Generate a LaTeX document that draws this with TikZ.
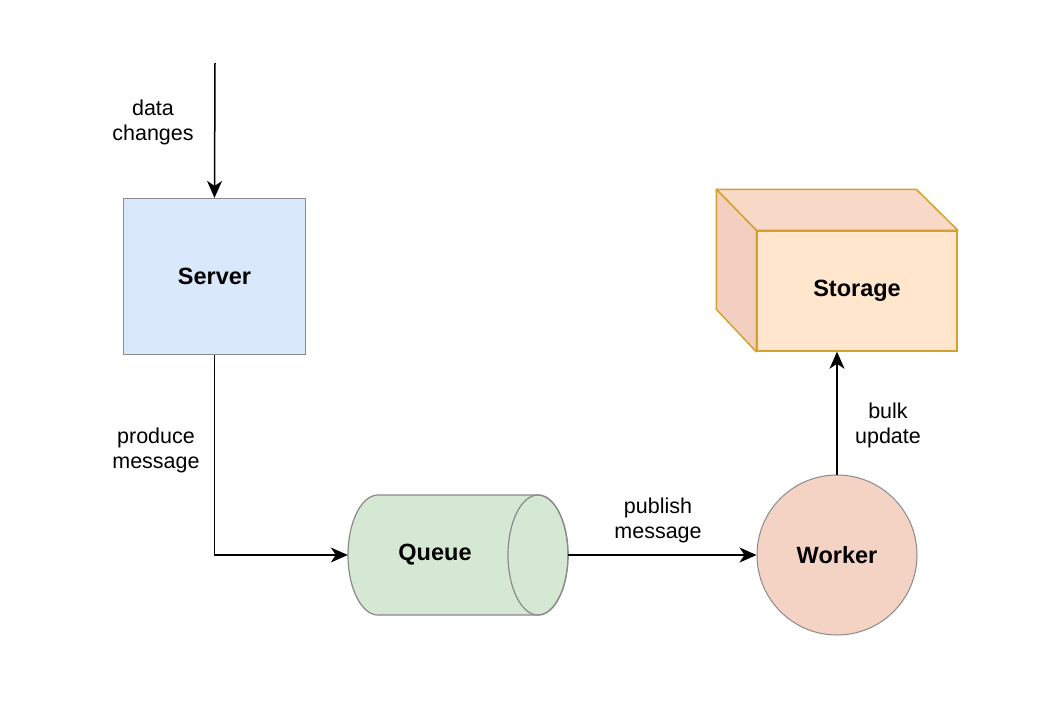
\documentclass[tikz,border=0pt]{standalone}
\usepackage{fontspec}
\setmainfont{Liberation Sans}
\usetikzlibrary{arrows.meta,positioning,calc}
\definecolor{srvfill}{HTML}{DAE8FC}
\definecolor{quefill}{HTML}{D5E8D4}
\definecolor{wrkfill}{HTML}{F4D3C5}
\definecolor{stofront}{HTML}{FFE6CC}
\definecolor{stotop}{HTML}{F8D8C6}
\definecolor{stoside}{HTML}{F3CFC2}
\definecolor{stoline}{HTML}{D6A02E}
\definecolor{boxline}{HTML}{8A8A8A}
\begin{document}
\begin{tikzpicture}[x=1pt,y=-1pt,
  every node/.style={font=\fontsize{21.5}{25}\selectfont,align=center},
  block/.style={font=\fontsize{23.5}{26}\selectfont\bfseries},
  flow/.style={line width=1.5pt,-{Stealth[length=17pt,width=15pt,inset=5pt]}}]
\useasboundingbox (0,0) rectangle (1051,710);
%
% nodos
\node[block,draw=boxline,line width=1.2pt,fill=srvfill,minimum width=182pt,minimum height=156pt] (server) at (214.5,276.5) {Server};
\node[block,minimum width=220pt,minimum height=120pt] (queue) at (458,555) {};
\node[block,circle,draw=boxline,line width=1pt,fill=wrkfill,minimum size=160pt,inner sep=0pt] (worker) at (837,555) {Worker};
\node[block,draw=stoline,line width=1.5pt,fill=stofront,minimum width=200pt,minimum height=120pt] (storage) at (857,291) {};
\coordinate (input) at (215,63);
%
% cilindro de la cola
\draw[boxline,line width=1.2pt,fill=quefill]
  (378,495) -- (538,495) arc[start angle=-90,end angle=90,x radius=30,y radius=60]
  -- (378,615) arc[start angle=90,end angle=270,x radius=30,y radius=60] -- cycle;
\draw[boxline,line width=1.2pt] (538,555) ellipse[x radius=30,y radius=60];
\node[block] at (435,555) {Queue};
%
% caras del cubo
\draw[stoline,line width=1.5pt,fill=stotop,line join=round]
  (storage.north west) -- ++(-40,-41) -- ++(200,0) -- (storage.north east) -- cycle;
\draw[stoline,line width=1.5pt,fill=stoside,line join=round]
  (storage.north west) -- ++(-40,-41) -- ++(0,120) -- (storage.south west) -- cycle;
\node[block] at (857,291) {Storage};
%
% flechas
\draw[flow] (input) -- (server.north);
\draw[flow] (server.south) |- (queue.west);
\draw[flow] (queue.east) -- (worker.west);
\draw[flow] (worker.north) -- (worker.north |- storage.south);
%
% etiquetas
\node (lbldata) at (153,122) {data\\changes};
\node (lblprod) at (156,450) {produce\\message};
\node (lblpub) at (658,520) {publish\\message};
\node (lblbulk) at (888,425) {bulk\\update};
\end{tikzpicture}
\end{document}
